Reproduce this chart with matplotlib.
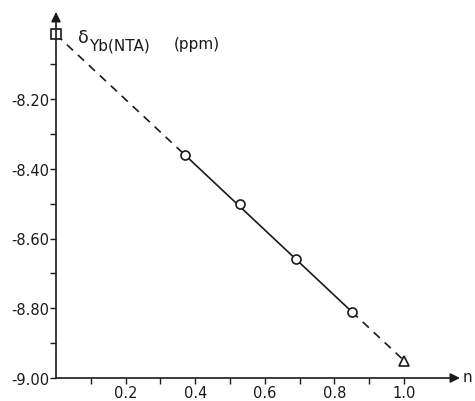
"""
Yb NTA chemical shift vs n, straight-line fit with dashed extrapolation.
"""
import matplotlib
matplotlib.use("Agg")
import matplotlib.pyplot as plt

# measured points (circles)
n_meas = [0.37, 0.53, 0.69, 0.85]
shift_meas = [-8.36, -8.50, -8.66, -8.81]

# end points (square at n=0, triangle at n=1)
n_start, shift_start = 0.0, -8.015
n_end, shift_end = 1.0, -8.95

x_ticks = [0.2, 0.4, 0.6, 0.8, 1.0]
x_labels = ["0.2", "0.4", "0.6", "0.8", "1.0"]
y_ticks = [-9.00, -8.80, -8.60, -8.40, -8.20]
y_labels = ["-9.00", "-8.80", "-8.60", "-8.40", "-8.20"]
y_minor = [-8.90, -8.70, -8.50, -8.30, -8.10]
x_minor = [0.1, 0.3, 0.5, 0.7, 0.9]

plt.rcParams["font.family"] = ["DejaVu Sans"]
plt.rcParams["axes.unicode_minus"] = False

fig = plt.figure(figsize=(4.75, 4.02), dpi=100)
ax = fig.add_axes([56 / 475, 23 / 402, 404 / 475, 366 / 402])

ink = "#1a1a1a"

# dashed extrapolations
ax.plot([n_start, n_meas[0]], [shift_start, shift_meas[0]], "--", color=ink,
        lw=1.2, dashes=(5, 4), zorder=2)
ax.plot([n_meas[-1], n_end], [shift_meas[-1], shift_end], "--", color=ink,
        lw=1.2, dashes=(5, 4), zorder=2)
# solid fit through measured points
ax.plot([n_meas[0], n_meas[-1]], [shift_meas[0], shift_meas[-1]], "-",
        color=ink, lw=1.2, zorder=2)

ax.plot(n_meas, shift_meas, "o", ms=6.5, mfc="white", mec=ink, mew=1.2,
        zorder=3)
ax.plot([n_start], [shift_start], "s", ms=6.5, mfc="white", mec=ink,
        mew=1.2, zorder=3, clip_on=False)
ax.plot([n_end], [shift_end], "^", ms=6.5, mfc="white", mec=ink, mew=1.2,
        zorder=3)

ax.set_xlim(0, 404 / 348)
ax.set_ylim(-9.00, -9.00 + 366 * 0.2 / 69.75)

for s in ["top", "right", "left", "bottom"]:
    ax.spines[s].set_visible(False)

# axis lines with arrow heads
ax.annotate("", xy=(1, 0), xytext=(0, 0), xycoords="axes fraction",
            arrowprops=dict(arrowstyle="-|>", color=ink, lw=1.2,
                            mutation_scale=14, shrinkA=0, shrinkB=0))
ax.annotate("", xy=(0, 1), xytext=(0, 0), xycoords="axes fraction",
            arrowprops=dict(arrowstyle="-|>", color=ink, lw=1.2,
                            mutation_scale=14, shrinkA=0, shrinkB=0))

ax.set_xticks(x_ticks)
ax.set_xticklabels(x_labels)
ax.set_xticks(x_minor, minor=True)
ax.set_yticks(y_ticks)
ax.set_yticklabels(y_labels)
ax.set_yticks(y_minor, minor=True)
ax.tick_params(which="both", direction="out", length=4, width=1,
               color=ink, labelsize=10.5, labelcolor=ink, pad=1)

ax.text(1.006, 0.004, "n", transform=ax.transAxes, fontsize=11, color=ink,
        ha="left", va="center")
# y-axis label: delta with subscript, then unit
ax.text(0.063, -8.022, "δ", fontsize=12.5, color=ink, ha="left",
        va="center")
ax.text(0.094, -8.045, "Yb(NTA)", fontsize=11, color=ink, ha="left",
        va="center")
ax.text(0.339, -8.042, "(ppm)", fontsize=11, color=ink, ha="left",
        va="center")

fig.savefig("out.png", dpi=100)
plt.close(fig)
